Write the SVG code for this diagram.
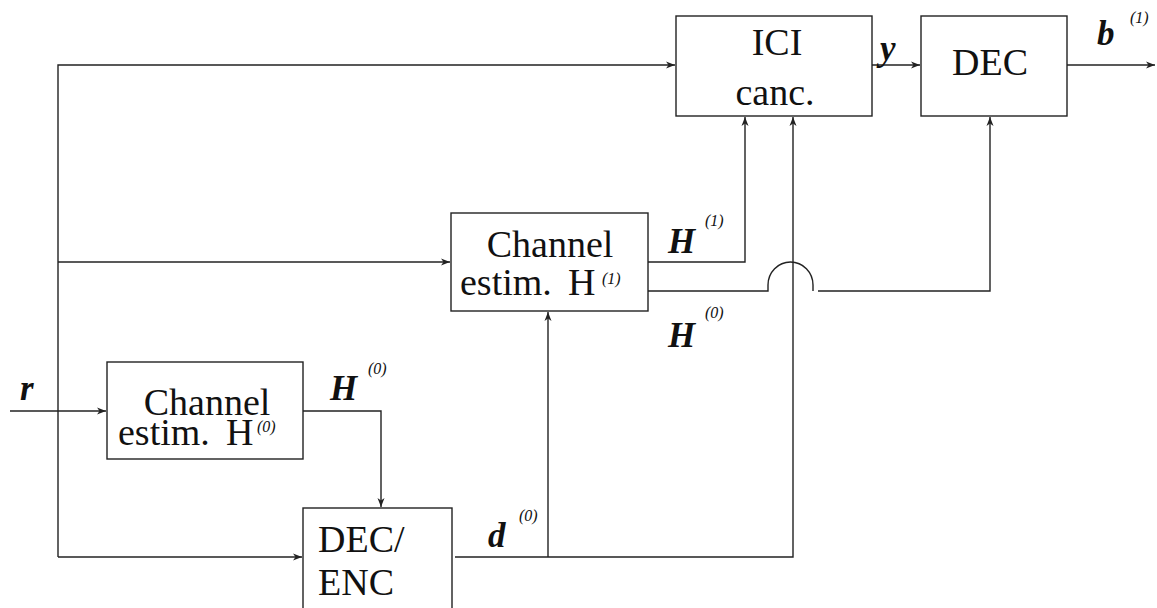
<svg xmlns="http://www.w3.org/2000/svg" width="1157" height="608" viewBox="0 0 1157 608">
<style>
.box{fill:#fff;stroke:#222;stroke-width:1.4}
.ln{fill:none;stroke:#222;stroke-width:1.4}
.t{font-family:"Liberation Serif","Times New Roman",serif;font-size:38px;fill:#111}
.v{font-family:"Liberation Serif","Times New Roman",serif;font-size:35px;font-weight:bold;font-style:italic;fill:#111}
.s{font-family:"Liberation Serif","Times New Roman",serif;font-size:16px;font-style:italic;fill:#111}
</style>
<defs>
<marker id="ah" markerWidth="12" markerHeight="10" refX="10" refY="5" orient="auto" markerUnits="userSpaceOnUse">
<path d="M1,1.5 L10,5 L1,8.5 L3.5,5 Z" fill="#222"/>
</marker>
</defs>
<rect width="1157" height="608" fill="#fff"/>
<g id="connectors">
<path class="ln" d="M58,557 V65 H675" marker-end="url(#ah)"/>
<path class="ln" d="M58,262 H450" marker-end="url(#ah)"/>
<path class="ln" d="M58,557 H302" marker-end="url(#ah)"/>
<path class="ln" d="M10,411 H106" marker-end="url(#ah)"/>
<path class="ln" d="M872,65 H920" marker-end="url(#ah)"/>
<path class="ln" d="M1067,65 H1155" marker-end="url(#ah)"/>
<path class="ln" d="M648,262 H745 V117" marker-end="url(#ah)"/>
<path class="ln" d="M455,557 H793 V117" marker-end="url(#ah)"/>
<path class="ln" d="M548,557 V312" marker-end="url(#ah)"/>
<path class="ln" d="M303,411 H381 V507" marker-end="url(#ah)"/>
<path class="ln" d="M648,291 H768 V285 A22.5,23 0 0 1 813,285 V291"/>
<path class="ln" d="M818,291 H990 V117" marker-end="url(#ah)"/>
</g>
<g id="ici">
<rect class="box" x="676" y="16" width="196" height="100"/>
<text class="t" x="777" y="55" text-anchor="middle">ICI</text>
<text class="t" x="775" y="105" text-anchor="middle">canc.</text>
</g>
<g id="dec">
<rect class="box" x="921" y="16" width="146" height="100"/>
<text class="t" x="990" y="75" text-anchor="middle">DEC</text>
</g>
<g id="chest1">
<rect class="box" x="451" y="213" width="197" height="98"/>
<text class="t" x="550" y="257" text-anchor="middle">Channel</text>
<text class="t" x="460" y="295">estim.</text>
<text class="t" x="568" y="295">H</text>
<text class="s" x="602" y="284">(1)</text>
</g>
<g id="chest0">
<rect class="box" x="107" y="362" width="196" height="97"/>
<text class="t" x="207" y="415" text-anchor="middle">Channel</text>
<text class="t" x="118" y="445">estim.</text>
<text class="t" x="226" y="445">H</text>
<text class="s" x="257" y="432">(0)</text>
</g>
<g id="decenc">
<rect class="box" x="303" y="508" width="149" height="101"/>
<text class="t" x="318" y="552">DEC/</text>
<text class="t" x="318" y="595">ENC</text>
</g>
<g id="labels">
<text class="v" x="20" y="400">r</text>
<text class="v" x="880" y="60">y</text>
<text class="v" x="1097" y="45">b</text>
<text class="s" x="1130" y="23">(1)</text>
<text class="v" x="668" y="253">H</text>
<text class="s" x="705" y="226">(1)</text>
<text class="v" x="668" y="347">H</text>
<text class="s" x="705" y="318">(0)</text>
<text class="v" x="330" y="400">H</text>
<text class="s" x="368" y="374">(0)</text>
<text class="v" x="488" y="547">d</text>
<text class="s" x="519" y="521">(0)</text>
</g>
</svg>
